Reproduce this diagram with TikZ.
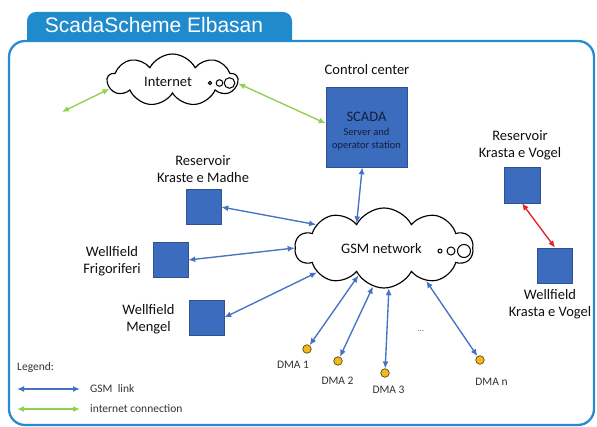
\documentclass[tikz,border=0pt]{standalone}
\usepackage{fontspec}
\setmainfont{Carlito}
\newfontfamily\titlefont{Liberation Sans}
\usetikzlibrary{shapes.symbols,arrows.meta}
\definecolor{tabblue}{RGB}{31,139,205}
\definecolor{frameblue}{RGB}{38,140,210}
\definecolor{boxblue}{RGB}{59,108,190}
\definecolor{boxedge}{RGB}{47,82,143}
\definecolor{gsmblue}{RGB}{68,114,196}
\definecolor{inetgreen}{RGB}{146,208,80}
\definecolor{linkred}{RGB}{235,30,35}
\definecolor{dmafill}{RGB}{245,185,30}
\definecolor{dmaedge}{RGB}{90,70,20}
\definecolor{txtc}{RGB}{15,15,15}
\definecolor{navytxt}{RGB}{20,30,60}
\begin{document}
\begin{tikzpicture}[x=1pt,y=-1pt,
  tip/.tip={Latex[length=7pt,width=6pt]},
  stationbox/.style={draw=boxedge, fill=boxblue, line width=0.6pt, minimum size=35pt, inner sep=0pt},
  lbl/.style={font=\fontsize{14.5}{17}\selectfont, align=center, text=txtc, inner sep=0pt},
  smalltxt/.style={font=\fontsize{11.5}{14}\selectfont, text=txtc!85, inner sep=0pt},
  gsmarrow/.style={draw=gsmblue, line width=1.35pt, {tip}-{tip}},
  inetarrow/.style={draw=inetgreen, line width=1.35pt, {tip}-{tip}},
  redarrow/.style={draw=linkred, line width=1.35pt, {tip}-{tip}},
  dmadot/.style={circle, draw=dmaedge, fill=dmafill, minimum size=8.5pt, inner sep=0pt, line width=0.7pt},
  cloudst/.style={cloud, draw=black, fill=white, line width=1.15pt, cloud puff arc=125, cloud ignores aspect, inner sep=0pt},
  bubble/.style={circle, draw=black, fill=white, line width=1pt, inner sep=0pt},
]
\useasboundingbox (0,0) rectangle (597,427);
% tab and frame
\fill[tabblue] (27,42) [rounded corners=9pt] -- (27,12) -- (292,12) [sharp corners] -- (292,42) -- cycle;
\draw[frameblue, line width=2.3pt, rounded corners=16pt] (9,41) rectangle (594,425);
\node[font=\titlefont\fontsize{21}{21}\selectfont, text=white, inner sep=0pt] (title) at (154,25) {ScadaScheme Elbasan};

% clouds
\node[cloudst, cloud puffs=9, minimum width=130pt, minimum height=52pt] (inet) at (172.5,80) {};
\node[lbl] (inettxt) at (168,82) {Internet};
\node[bubble, minimum size=3.4pt] (ib1) at (210,83) {};
\node[bubble, minimum size=6.6pt] (ib2) at (219.5,83) {};
\node[bubble, minimum size=10.6pt] (ib3) at (229.5,83) {};

\node[cloudst, cloud puffs=10, minimum width=178pt, minimum height=80pt] (gsm) at (384,248) {};
\node[lbl] (gsmtxt) at (381.5,249) {GSM network};
\node[bubble, minimum size=4pt] (gb1) at (440,251) {};
\node[bubble, minimum size=8pt] (gb2) at (451,251) {};
\node[bubble, minimum size=13pt] (gb3) at (464,251) {};

% control center
\node[lbl] (cctxt) at (367,70) {Control center};
\node[stationbox, minimum width=81pt, minimum height=80pt] (scada) at (366.5,127) {};
\node[font=\fontsize{14.5}{14}\selectfont, text=navytxt, inner sep=0pt] (scadatxt) at (366.5,117) {SCADA};
\node[font=\fontsize{10.5}{13}\selectfont, text=navytxt, align=center, inner sep=0pt] (srvtxt) at (366.5,139) {Server and\\operator station};

% stations
\node[stationbox] (rkm) at (203.5,207) {};
\node[lbl] (rkmtxt) at (203,169.5) {Reservoir\\Kraste e Madhe};
\node[stationbox] (wf) at (170.5,260) {};
\node[lbl] (wftxt) at (112,261.5) {Wellfield\\Frigoriferi};
\node[stationbox] (wm) at (206.5,317.5) {};
\node[lbl] (wmtxt) at (148.5,319.5) {Wellfield\\Mengel};
\node[stationbox, minimum size=36pt] (rkv) at (522,185) {};
\node[lbl] (rkvtxt) at (520,145.5) {Reservoir\\Krasta e Vogel};
\node[stationbox] (wkv) at (555,265.5) {};
\node[lbl] (wkvtxt) at (550,304.5) {Wellfield\\Krasta e Vogel};

% DMAs
\node[dmadot] (d1) at (307,349) {};
\node[dmadot] (d2) at (338,361) {};
\node[dmadot] (d3) at (385,373) {};
\node[dmadot] (dn) at (480,360) {};
\node[smalltxt] (d1txt) at (293,365) {DMA 1};
\node[smalltxt] (d2txt) at (337.5,381) {DMA 2};
\node[smalltxt] (d3txt) at (388.5,390) {DMA 3};
\node[smalltxt] (dntxt) at (491.5,382) {DMA n};
\node[font=\fontsize{8}{8}\selectfont, text=txtc!80, inner sep=0pt] (dots) at (421,331) {...};

% connectors
\coordinate (inetfree) at (62,112);
\draw[inetarrow] (inetfree) -- (inet.188);
\draw[inetarrow] (inet.357) -- (scada.175);
\draw[gsmarrow] (scada.264) -- (gsm.138);
\draw[gsmarrow] (rkm.east) -- (gsm.161);
\draw[gsmarrow] (wf.east) -- (gsm.180);
\draw[gsmarrow] (wm.east) -- (gsm.200);
\draw[gsmarrow] (gsm.227) -- (d1);
\draw[gsmarrow] (gsm.254) -- (d2);
\draw[gsmarrow] (gsm.277) -- (d3);
\draw[gsmarrow] (gsm.322) -- (dn);
\draw[redarrow] (rkv.south) -- (wkv.north);

% legend
\node[smalltxt, anchor=west] (legtxt) at (17,367) {Legend:};
\coordinate (l1a) at (17,389);
\coordinate (l1b) at (80,389);
\coordinate (l2a) at (17,409);
\coordinate (l2b) at (80,409);
\draw[gsmarrow] (l1a) -- (l1b);
\draw[inetarrow] (l2a) -- (l2b);
\node[smalltxt, anchor=west] (l1txt) at (90,389) {GSM\ \ link};
\node[smalltxt, anchor=west] (l2txt) at (90,409) {internet connection};
\end{tikzpicture}
\end{document}
